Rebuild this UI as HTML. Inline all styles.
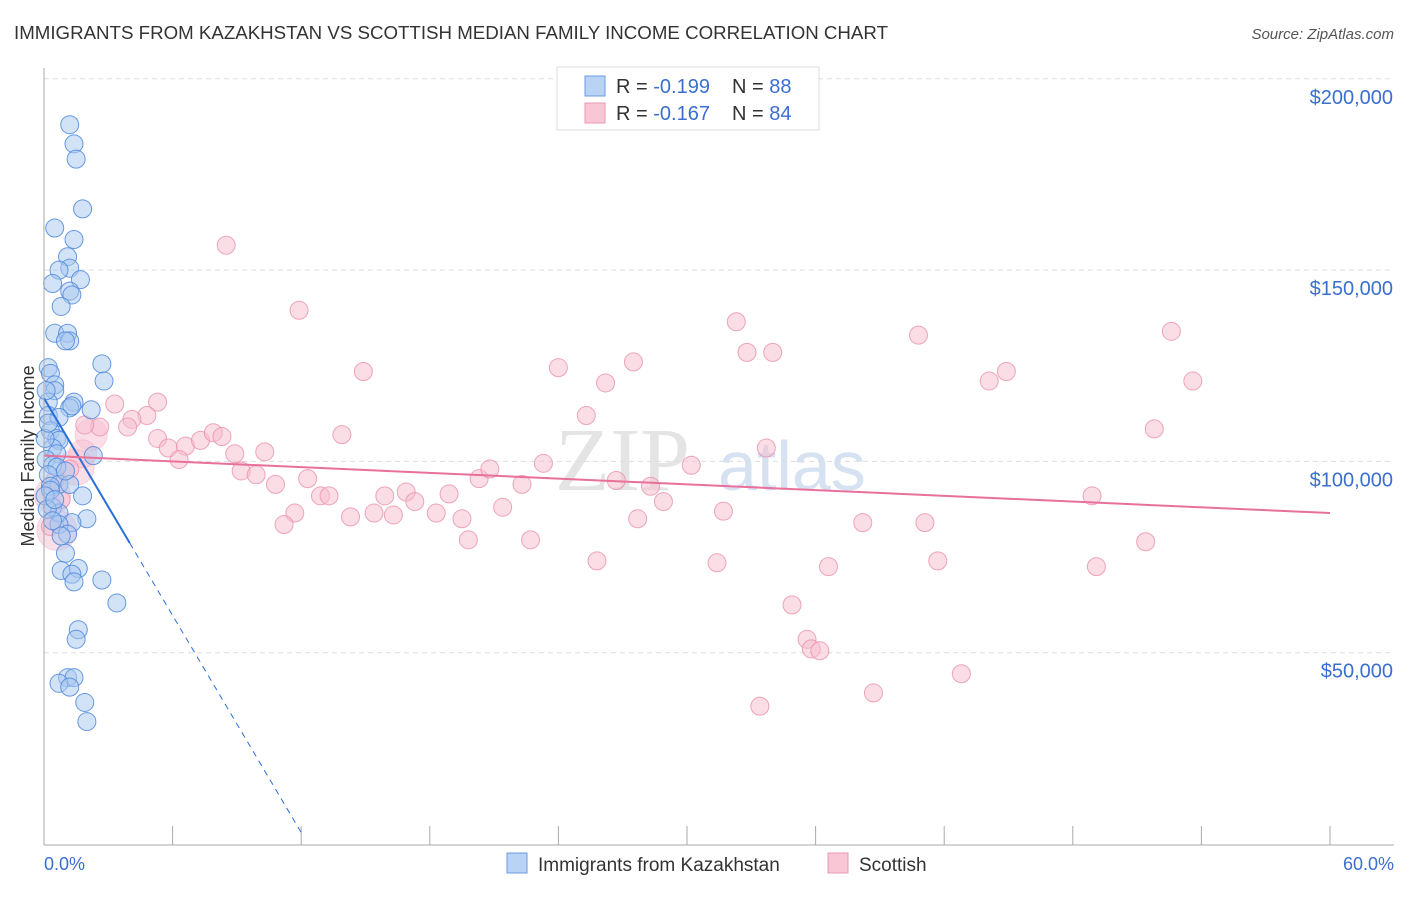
<!DOCTYPE html>
<html><head><meta charset="utf-8"><style>
body{margin:0;background:#fff;font-family:"Liberation Sans",sans-serif;}
</style></head><body>
<svg id="c" width="1406" height="892" xmlns="http://www.w3.org/2000/svg">
<text x="14" y="39" font-size="18" fill="#333" textLength="874" lengthAdjust="spacingAndGlyphs">IMMIGRANTS FROM KAZAKHSTAN VS SCOTTISH MEDIAN FAMILY INCOME CORRELATION CHART</text>
<text x="1394" y="39" font-size="15" fill="#555" font-style="italic" text-anchor="end">Source: ZipAtlas.com</text>
<text x="34" y="456" font-size="18" fill="#333" text-anchor="middle" transform="rotate(-90 34 456)">Median Family Income</text>
<text x="555" y="490" font-size="90" fill="#e4e4e4" font-family="Liberation Serif,serif">ZIP</text>
<text x="718" y="490" font-size="70" fill="#d6e2f2">atlas</text>
<g id="grid"></g><g id="pts"></g><g id="lines"></g>
<line x1="44" y1="68" x2="44" y2="845" stroke="#aaa"/>
<line x1="44" y1="845" x2="1394" y2="845" stroke="#aaa"/>
<text x="44" y="870" font-size="18" fill="#3a6fd0">0.0%</text>
<text x="1394" y="870" font-size="18" fill="#3a6fd0" text-anchor="end">60.0%</text>
<g>
<rect x="557" y="67" width="262" height="63" fill="#fff" stroke="#ddd"/>
<rect x="585" y="76" width="20" height="20" fill="#b9d3f5" stroke="#6a9be0"/>
<rect x="585" y="103" width="20" height="20" fill="#f9c6d5" stroke="#ea9ab3"/>
<text x="616" y="93" font-size="20" fill="#333">R = <tspan fill="#3a6fd0">-0.199</tspan></text>
<text x="732" y="93" font-size="20" fill="#333">N = <tspan fill="#3a6fd0">88</tspan></text>
<text x="616" y="120" font-size="20" fill="#333">R = <tspan fill="#3a6fd0">-0.167</tspan></text>
<text x="732" y="120" font-size="20" fill="#333">N = <tspan fill="#3a6fd0">84</tspan></text>
</g>
<g>
<rect x="507" y="853" width="20" height="20" fill="#b9d3f5" stroke="#6a9be0"/>
<text x="538" y="871" font-size="19" fill="#333">Immigrants from Kazakhstan</text>
<rect x="828" y="853" width="20" height="20" fill="#f9c6d5" stroke="#ea9ab3"/>
<text x="859" y="871" font-size="19" fill="#333">Scottish</text>
</g>
</svg>
<script>
const yTicks=[50000,100000,150000,200000];
const xTickPct=[0,6,12,18,24,30,36,42,48,54,60];
const blueX=[1.2,1.4,1.5,1.8,0.5,1.4,1.1,1.2,0.7,0.4,1.7,1.2,1.3,0.8,0.5,1.1,1.2,1.0,2.7,0.2,0.3,2.8,0.5,0.5,0.2,1.4,1.2,1.3,2.2,0.2,0.7,0.3,0.6,0.7,0.4,0.6,2.3,0.1,0.4,0.6,0.2,0.7,0.3,1.2,1.8,0.4,0.7,2.0,1.3,0.7,1.1,0.8,1.0,0.8,1.6,2.7,1.3,1.4,3.4,1.6,1.5,1.1,1.4,0.7,1.2,1.9,2.0,0.3,0.05,0.15,0.4,0.05,0.2,0.1,1.0,0.5];
const blueY=[188000,183000,179000,166000,161000,158000,153500,150500,150000,146500,147500,144500,143500,140500,133500,133500,131500,131500,125500,124500,123000,121000,120000,118500,115500,115500,114000,114500,113500,112000,111500,108000,106000,105500,103500,102000,101500,100500,99000,98500,96500,94000,93500,94000,91000,88000,86500,85000,84000,83500,81000,80500,76000,71500,72000,69000,70500,68500,63000,56000,53500,43500,43500,42000,41000,37000,32000,92500,91000,87500,84500,106000,110000,118500,97500,90000];
const pinkX=[8.5,11.9,32.3,52.6,40.8,14.9,24.0,27.5,32.8,34.0,26.2,53.6,44.1,44.9,25.3,5.3,3.3,4.8,4.1,2.6,3.9,5.3,5.8,6.6,7.3,7.9,8.3,6.3,8.9,10.3,13.9,33.7,9.2,9.9,10.8,12.3,12.9,13.3,15.9,16.9,17.3,18.9,20.3,20.8,22.3,23.3,26.7,28.3,30.2,51.8,11.7,11.2,14.3,15.4,16.3,18.3,19.5,21.4,28.9,31.7,27.7,38.2,41.1,48.9,19.8,22.7,25.8,31.4,36.6,41.7,49.1,51.4,34.9,35.6,35.8,36.2,38.7,42.8,33.4,0.3,0.5,1.2,1.9,0.8];
const pinkY=[156500,139500,136500,134000,133000,123500,124500,126000,128500,128500,120500,121000,121000,123500,112000,115500,115000,112000,111000,109000,109000,106000,103500,104000,105500,107500,106500,100500,102000,102500,107000,103500,97500,96500,94000,95500,91000,91000,91000,92000,89500,91500,95500,98000,94000,99500,95000,93500,99000,108500,86500,83500,85500,86500,86000,86500,85000,88000,89500,87000,85000,84000,84000,91000,79500,79500,74000,73500,72500,74000,72500,79000,62500,53500,51000,50500,39500,44500,36000,83000,95000,98000,109500,90000];
const bigPinkX=[0.6,1.5,2.2,0.4,1.8];
const bigPinkY=[82000,98500,107000,91000,102000];
const bigPinkR=[20,18,16,18,14];
const X0=44,XW=1286,Y0=844,YS=191.3/50000;
const xs=p=>X0+p/60*XW, ys=v=>Y0-v*YS;
const NS='http://www.w3.org/2000/svg';
const grid=document.getElementById('grid'),pts=document.getElementById('pts'),lines=document.getElementById('lines');
function mk(t,a,par){const e=document.createElementNS(NS,t);for(const k in a)e.setAttribute(k,a[k]);par.appendChild(e);return e;}
yTicks.forEach(v=>{
 const g=mk('line',{x1:44,x2:1394,y1:ys(v),y2:ys(v),stroke:'#ddd','stroke-dasharray':'5,4'},grid);
 
 
 const t=mk('text',{x:1393,y:ys(v)+25,'font-size':20,fill:'#3a6fd0','text-anchor':'end'},grid);
 t.textContent='$'+v.toLocaleString('en-US');
 
 
});
xTickPct.forEach(p=>{
 const l=mk('line',{x1:xs(p),x2:xs(p),y1:826,y2:845,stroke:'#aaa'},grid);
 
 
});
bigPinkX.forEach((x,i)=>{
 const c=mk('circle',{cx:xs(x),cy:ys(bigPinkY[i]),r:bigPinkR[i],fill:'#f7b9cb','fill-opacity':0.45,stroke:'#ef9fb7','stroke-opacity':0.4},pts);
 
 
});
pinkX.forEach((x,i)=>{
 const c=mk('circle',{cx:xs(x),cy:ys(pinkY[i]),r:9,fill:'#f8bccd','fill-opacity':0.5,stroke:'#e891ab','stroke-opacity':0.8},pts);
 
 
});
blueX.forEach((x,i)=>{
 const c=mk('circle',{cx:xs(x),cy:ys(blueY[i]),r:9,fill:'#a8c8f0','fill-opacity':0.5,stroke:'#4f88dd','stroke-opacity':0.85},pts);
 
 
});
const bInt=116500,bSlope=-(116500-3000)/12;
const pInt=101500,pSlope=-(101500-86500)/60;
let l=mk('line',{x1:xs(0),y1:ys(bInt),x2:xs(4),y2:ys(bInt+bSlope*4),stroke:'#2a6fd8','stroke-width':2},lines);


l=mk('line',{x1:xs(4),y1:ys(bInt+bSlope*4),x2:xs(12),y2:ys(bInt+bSlope*12),stroke:'#2a6fd8','stroke-width':1,'stroke-dasharray':'6,5'},lines);


l=mk('line',{x1:xs(0),y1:ys(pInt),x2:xs(60),y2:ys(pInt+pSlope*60),stroke:'#e8709a','stroke-width':2},lines);


</script>
</body></html>
